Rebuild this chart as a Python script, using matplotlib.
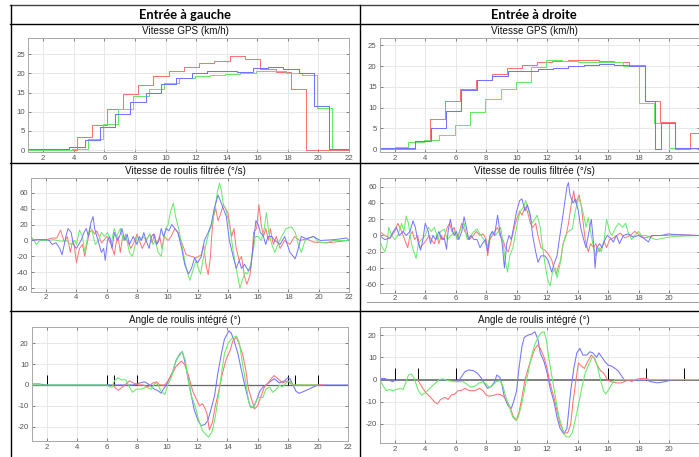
import numpy as np
import matplotlib
matplotlib.use("Agg")
import matplotlib.pyplot as plt
from matplotlib.lines import Line2D

plt.rcParams["axes.unicode_minus"] = False
W, H = 699, 457

# ---------------- DATA ----------------
headers = ["Entrée à gauche", "Entrée à droite"]
titles = ["Vitesse GPS (km/h)", "Vitesse de roulis filtrée (°/s)", "Angle de roulis intégré (°)"]

# GPS speed (step, 1 Hz) - left run
gpsL_red_t = [1, 4.2, 5.2, 6.2, 7.2, 8.2, 9.2, 10.2, 11.2, 12.2, 13.2, 14.2, 15.2, 16.2, 17.2, 18.2, 19.2, 22]
gpsL_red_v = [0, 3.5, 6.5, 10.7, 14.6, 16.9, 19.3, 20.6, 21.7, 22.6, 23.2, 24.4, 23.7, 21.2, 20.4, 16.0, 0, 0]
gpsL_green_t = [1, 2.9, 3.9, 4.9, 5.9, 6.9, 7.9, 8.9, 9.9, 10.9, 11.9, 12.9, 13.9, 14.9, 15.9, 16.9, 17.9, 18.9, 19.9, 20.9, 22]
gpsL_green_v = [0.1, 0.1, 0.4, 3.0, 6.8, 10.8, 14.0, 16.0, 17.6, 18.8, 19.4, 19.6, 19.9, 20.1, 20.7, 20.6, 20.1, 19.5, 10.9, 0.3, 0.3]
gpsL_blue_t = [1, 3.7, 4.7, 5.7, 6.7, 7.7, 8.7, 9.7, 10.7, 11.7, 12.7, 13.7, 14.7, 15.7, 16.7, 17.7, 18.7, 19.7, 20.7, 22]
gpsL_blue_v = [0.2, 0.8, 2.7, 6.0, 9.5, 12.5, 15.0, 17.3, 18.9, 20.2, 20.6, 20.5, 20.3, 21.3, 21.6, 21.0, 20.0, 11.6, 0.2, 0.2]

# GPS speed - right run
gpsR_red_t = [1, 3.3, 4.3, 5.3, 6.3, 7.35, 8.35, 9.35, 10.35, 11.35, 12.35, 13.4, 14.4, 15.4, 16.4, 17.4, 18.4, 19.4, 20.4, 21.4, 22]
gpsR_red_v = [0.1, 1.9, 7.3, 11.6, 14.4, 16.7, 18.2, 19.5, 20.4, 21.0, 21.3, 21.6, 21.5, 21.3, 21.0, 20.3, 11.6, 6.5, 0.1, 3.8, 3.8]
gpsR_green_t = [1, 2.0, 2.9, 3.9, 4.9, 5.95, 6.95, 7.95, 8.95, 9.95, 10.95, 11.95, 12.95, 14.0, 15.0, 16.0, 17.0, 18.0, 19.0, 20.0, 22]
gpsR_green_v = [0.2, 0.5, 1.8, 2.3, 3.3, 5.7, 8.9, 12.2, 14.6, 16.3, 19.9, 21.4, 21.2, 21.1, 21.0, 20.9, 20.0, 11.2, 6.3, 0.2, 0.2]
gpsR_blue_t = [1, 3.35, 4.35, 5.35, 6.35, 7.4, 8.4, 9.4, 10.4, 11.4, 12.4, 13.4, 14.4, 15.4, 16.4, 17.4, 18.45, 19.05, 19.5, 20.4, 22]
gpsR_blue_v = [0.2, 1.9, 5.1, 9.3, 14.2, 16.6, 17.7, 18.8, 18.9, 19.3, 19.6, 20.0, 20.2, 20.5, 20.4, 20.0, 11.5, 0.1, 6.3, 0.2, 0.2]

# Filtered roll rate (t, deg/s) - left run
rateL_red = [(1.0,1),(1.5,1),(2.0,1),(2.4,3),(2.7,3),(2.95,13),(3.2,-2),(3.4,5),(3.6,-15),(3.75,0),(3.85,-5),(4.0,-28),(4.2,-10),(4.4,-5),(4.55,-20),(4.7,-5),(4.85,10),(5.05,13),(5.2,8),(5.35,12),(5.5,5),(5.65,-3),(5.8,0),(6.0,5),(6.3,-5),(6.5,-18),(6.6,-5),(6.75,5),(6.9,-15),(7.05,5),(7.3,2),(7.6,-10),(7.85,0),(8.0,8),(8.15,0),(8.35,-10),(8.6,0),(8.85,8),(9.0,-3),(9.15,8),(9.3,-5),(9.5,5),(9.65,-10),(9.8,5),(10.05,0),(10.25,5),(10.5,15),(10.7,10),(11.0,-5),(11.25,-18),(11.6,-20),(11.9,-22),(12.25,-18),(12.4,-5),(12.55,-30),(12.7,-43),(12.85,-20),(12.95,10),(13.05,30),(13.2,40),(13.35,25),(13.5,32),(13.7,45),(13.85,40),(14.0,35),(14.25,5),(14.4,15),(14.55,-10),(14.75,-25),(14.9,-20),(15.1,-45),(15.25,-55),(15.45,-45),(15.6,-20),(15.7,10),(15.9,15),(16.05,45),(16.2,20),(16.35,5),(16.5,15),(16.7,0),(16.8,15),(17.0,-5),(17.2,5),(17.45,-10),(17.75,0),(18.1,-5),(18.4,5),(18.75,0),(19.2,2),(19.65,-2),(20.5,-3),(22.0,0)]
rateL_green = [(1.0,0),(1.1,3),(1.35,-5),(1.6,0),(2.0,0),(2.5,1),(3.0,-1),(3.3,0),(3.65,-5),(3.9,0),(4.0,-5),(4.2,13),(4.4,5),(4.55,-15),(4.75,5),(4.9,18),(5.05,10),(5.25,-5),(5.45,0),(5.65,10),(5.85,5),(6.05,10),(6.3,-3),(6.5,15),(6.65,5),(6.9,15),(7.1,0),(7.25,8),(7.5,-15),(7.7,-20),(7.85,-8),(8.0,5),(8.2,0),(8.4,5),(8.6,0),(8.85,8),(9.05,-5),(9.2,0),(9.4,-15),(9.6,-20),(9.75,0),(9.9,15),(10.05,20),(10.2,35),(10.4,47),(10.55,30),(10.75,15),(11.0,-10),(11.2,-30),(11.4,-45),(11.5,-50),(11.65,-40),(11.9,-25),(12.05,-35),(12.2,-42),(12.35,-25),(12.55,-5),(12.75,10),(12.95,20),(13.15,40),(13.3,60),(13.45,72),(13.55,65),(13.7,45),(13.85,40),(14.1,20),(14.25,0),(14.45,-25),(14.6,-40),(14.8,-60),(14.95,-50),(15.15,-40),(15.3,-42),(15.5,-30),(15.7,-10),(15.8,5),(16.0,5),(16.2,0),(16.4,15),(16.55,35),(16.7,10),(16.9,-5),(17.1,-15),(17.3,-5),(17.55,5),(17.85,15),(18.2,17),(18.45,10),(18.65,-5),(18.85,-15),(19.1,0),(19.3,3),(19.65,5),(20.0,-2),(20.5,-3),(20.95,0),(22.0,0)]
rateL_blue = [(1.0,0),(1.5,1),(2.0,1),(2.2,0),(2.4,-5),(2.65,-3),(2.9,-10),(3.05,-18),(3.2,-5),(3.3,5),(3.45,15),(3.65,10),(3.8,-5),(4.0,-10),(4.15,-5),(4.3,0),(4.5,10),(4.65,15),(4.8,5),(4.95,22),(5.1,30),(5.2,15),(5.35,5),(5.5,-5),(5.65,-15),(5.8,-10),(5.9,-25),(6.05,0),(6.2,5),(6.35,-10),(6.5,10),(6.7,0),(6.85,5),(7.0,15),(7.2,0),(7.35,8),(7.5,-5),(7.75,5),(8.0,-5),(8.15,5),(8.3,0),(8.45,10),(8.6,0),(8.8,-10),(8.95,5),(9.1,8),(9.3,-5),(9.45,0),(9.6,15),(9.75,5),(9.95,15),(10.1,12),(10.3,20),(10.5,15),(10.7,10),(10.95,-10),(11.15,-30),(11.4,-42),(11.6,-35),(11.8,-22),(12.0,-28),(12.25,-20),(12.45,0),(12.7,10),(12.9,20),(13.1,40),(13.35,57),(13.5,50),(13.7,40),(13.9,30),(14.1,0),(14.35,-20),(14.55,-35),(14.75,-25),(14.9,-35),(15.1,-30),(15.35,-38),(15.5,-35),(15.65,-10),(15.85,25),(16.0,20),(16.15,10),(16.35,5),(16.5,-5),(16.65,5),(16.9,5),(17.1,0),(17.45,-5),(17.75,5),(18.1,-15),(18.45,-23),(18.65,-10),(18.85,5),(19.2,2),(19.65,5),(20.1,0),(21.0,1),(21.85,3),(22.0,0)]

# Filtered roll rate - right run
rateR_red = [(1.0,5),(1.35,0),(1.7,-3),(2.0,5),(2.2,15),(2.45,5),(2.65,-5),(2.85,-15),(3.0,0),(3.15,5),(3.3,-5),(3.5,0),(3.65,-15),(3.9,-10),(4.1,-5),(4.25,0),(4.4,-5),(4.6,-10),(4.75,0),(4.9,-10),(5.05,0),(5.2,-5),(5.45,10),(5.6,15),(5.75,5),(5.9,10),(6.1,-5),(6.25,5),(6.4,15),(6.6,5),(6.75,0),(6.9,-5),(7.15,0),(7.35,5),(7.6,0),(7.8,2),(8.0,-5),(8.1,-25),(8.25,-5),(8.4,0),(8.55,5),(8.75,10),(8.9,0),(9.1,-5),(9.25,-15),(9.45,-20),(9.6,-10),(9.85,10),(10.0,20),(10.2,30),(10.35,25),(10.55,35),(10.7,30),(10.9,15),(11.05,10),(11.25,15),(11.4,0),(11.6,-15),(11.85,-18),(12.05,-22),(12.3,-30),(12.45,-40),(12.6,-48),(12.7,-40),(12.9,-30),(13.05,-10),(13.25,0),(13.4,15),(13.6,40),(13.75,55),(13.85,40),(14.0,45),(14.1,50),(14.25,35),(14.4,10),(14.5,-5),(14.7,-20),(14.85,-10),(15.05,-15),(15.2,-10),(15.4,-20),(15.55,-15),(15.75,-8),(15.9,-15),(16.1,-5),(16.35,-3),(16.55,0),(16.8,3),(17.1,-3),(17.45,0),(17.75,5),(18.1,0),(18.4,-3),(19.05,0),(19.7,0),(20.5,1),(22.0,0)]
rateR_green = [(1.0,-5),(1.2,-15),(1.35,-20),(1.5,-10),(1.6,10),(1.8,0),(2.0,-5),(2.2,0),(2.45,15),(2.6,5),(2.75,24),(2.9,15),(3.1,-10),(3.25,-20),(3.4,-28),(3.55,-10),(3.75,-5),(4.0,0),(4.2,10),(4.4,5),(4.6,10),(4.85,-5),(5.0,5),(5.25,8),(5.45,-5),(5.7,0),(5.9,5),(6.1,-5),(6.35,10),(6.55,15),(6.75,-5),(7.0,0),(7.2,5),(7.4,8),(7.65,0),(7.85,-5),(8.05,-15),(8.2,-5),(8.4,5),(8.6,0),(8.8,5),(8.95,10),(9.15,-15),(9.25,-30),(9.4,-45),(9.55,-25),(9.75,-15),(9.9,0),(10.1,20),(10.25,30),(10.45,35),(10.6,43),(10.8,30),(11.0,15),(11.2,20),(11.35,25),(11.55,10),(11.7,-15),(11.9,-40),(12.05,-55),(12.2,-62),(12.35,-45),(12.55,-40),(12.65,-52),(12.85,-35),(13.0,-15),(13.2,0),(13.4,5),(13.65,8),(13.85,30),(14.05,45),(14.2,40),(14.4,25),(14.55,10),(14.7,22),(14.85,5),(15.05,-15),(15.2,-25),(15.4,-15),(15.55,-20),(15.75,-5),(15.9,20),(16.1,5),(16.25,0),(16.5,10),(16.7,15),(16.95,10),(17.15,15),(17.3,5),(17.55,-5),(17.75,0),(18.0,5),(18.2,0),(18.5,0),(18.85,-3),(19.15,-5),(19.7,-3),(20.4,-1),(22.0,0)]
rateR_blue = [(1.0,0),(1.35,-5),(1.7,-3),(1.9,5),(2.1,10),(2.3,0),(2.55,5),(2.75,0),(3.0,5),(3.2,18),(3.35,10),(3.55,-10),(3.7,-18),(3.85,-5),(4.0,15),(4.2,5),(4.35,-10),(4.5,0),(4.7,-5),(4.9,5),(5.1,-5),(5.25,-3),(5.4,-17),(5.5,5),(5.65,20),(5.8,5),(5.9,0),(6.05,5),(6.2,-5),(6.4,5),(6.55,23),(6.7,10),(6.85,-5),(7.0,0),(7.2,-5),(7.4,-5),(7.6,-15),(7.75,-10),(7.95,-5),(8.1,-20),(8.25,0),(8.4,5),(8.55,0),(8.75,25),(8.9,5),(9.05,-10),(9.2,-40),(9.35,-10),(9.5,0),(9.65,-5),(9.85,15),(10.0,30),(10.2,43),(10.35,45),(10.55,30),(10.7,38),(10.9,25),(11.05,0),(11.25,-20),(11.4,-33),(11.6,-25),(11.85,-25),(12.05,-30),(12.3,-45),(12.45,-35),(12.65,-25),(12.8,-5),(13.0,20),(13.15,40),(13.3,60),(13.4,65),(13.5,50),(13.7,40),(13.85,45),(14.05,30),(14.2,10),(14.4,-5),(14.55,-15),(14.75,5),(14.9,20),(15.05,-10),(15.15,-40),(15.25,-15),(15.45,-10),(15.6,-15),(15.8,-5),(15.95,0),(16.15,-3),(16.35,-8),(16.55,0),(16.75,-10),(17.0,0),(17.3,2),(17.65,-2),(18.0,0),(18.3,-3),(18.65,-8),(18.85,0),(19.5,0),(19.95,2),(20.5,1),(22.0,0)]

# Integrated roll angle (t, deg) - left run
angL_red = [(6.4,0),(6.5,-1),(6.75,-2.5),(6.95,-1.5),(7.2,0),(7.5,2),(7.75,1),(8.05,0),(8.4,0),(8.75,-1),(9.05,1),(9.3,1.5),(9.5,0),(9.85,0),(10.05,2),(10.3,5),(10.6,9),(10.95,11.5),(11.15,10),(11.4,5),(11.7,-3),(11.95,-7),(12.15,-10),(12.35,-9),(12.5,-11),(12.65,-14),(12.8,-21.5),(13.0,-18),(13.2,-10),(13.45,-2),(13.65,5),(13.9,12),(14.2,17),(14.35,21),(14.6,23),(14.75,20),(15.0,15),(15.2,8),(15.4,-2),(15.65,-8),(15.8,-11.5),(16.0,-10),(16.25,-5),(16.45,-1),(16.7,1),(16.9,3),(17.1,4.5),(17.35,3),(17.65,1),(18.0,2),(18.15,1),(18.35,0),(20.4,0)]
angL_green = [(1.0,0),(6.0,0),(6.2,-1),(6.35,-1),(6.5,2),(6.75,3.5),(6.95,2.5),(7.25,2.5),(7.5,-1),(7.7,-3.5),(7.95,-2),(8.3,-2),(8.6,-1),(8.95,-2),(9.2,1),(9.4,0),(9.6,-3),(9.85,-4.5),(10.05,0),(10.3,4),(10.5,10),(10.7,13),(11.0,16),(11.2,12),(11.4,2),(11.6,-5),(11.85,-10),(12.1,-17),(12.35,-22),(12.6,-24),(12.75,-25),(13.0,-22),(13.2,-15),(13.35,-8),(13.6,5),(13.8,15),(14.05,20),(14.25,22),(14.45,23),(14.6,23.5),(14.8,20),(15.0,10),(15.25,0),(15.4,-8),(15.55,-11),(15.8,-10),(16.0,-6),(16.35,-6),(16.55,-2),(16.8,-1),(17.0,-3.5),(17.25,-2),(17.45,0),(17.65,-1),(17.9,1),(18.1,2),(18.35,0),(20.0,0)]
angL_blue = [(1.0,0.5),(1.5,0.5),(2.0,0),(7.75,0),(8.2,1),(8.5,1.5),(8.85,0),(9.15,-2),(9.45,-3),(9.6,-4),(9.75,-2),(9.95,0),(10.15,3),(10.4,7),(10.6,12),(10.85,15),(11.0,16),(11.15,12),(11.4,3),(11.6,-5),(11.8,-12),(12.05,-17),(12.25,-19.5),(12.5,-19),(12.7,-17),(12.9,-12),(13.15,-5),(13.35,5),(13.6,15),(13.8,22),(14.1,26),(14.25,25),(14.45,21),(14.7,15),(14.9,8),(15.15,0),(15.35,-6),(15.5,-10),(15.7,-11),(15.9,-8),(16.15,-3),(16.35,-1),(16.55,0),(16.9,2),(17.1,3),(17.45,1),(17.8,2),(18.0,3.5),(18.15,3),(18.35,0),(18.55,-3),(18.75,-4),(19.1,-3),(19.55,-1.5),(20.0,0),(22.0,0)]
angL_marks = [2, 6, 6.5, 8, 18, 18.5, 20]

# Integrated roll angle - right run
angR_red = [(3.5,0),(3.75,-3),(4.05,-6),(4.35,-8),(4.6,-10),(4.8,-11),(5.0,-9),(5.3,-8),(5.5,-9),(5.7,-7),(5.95,-6.5),(6.15,-5),(6.35,-5),(6.6,-4),(6.9,-5),(7.25,-5),(7.55,-4),(7.8,-5),(8.0,-7),(8.2,-7.5),(8.55,-7),(8.75,-6.5),(9.0,-7),(9.2,-8),(9.4,-10),(9.65,-14),(9.8,-17),(10.0,-18),(10.15,-15),(10.35,-8),(10.55,0),(10.8,6),(11.0,10),(11.2,14),(11.4,15.5),(11.55,14),(11.8,10),(12.0,5),(12.2,-2),(12.45,-8),(12.65,-14),(12.85,-20),(13.1,-24),(13.35,-24),(13.55,-20),(13.7,-10),(13.9,0),(14.05,7.5),(14.25,6),(14.45,5),(14.65,8),(14.9,11),(15.05,10),(15.25,7),(15.5,4),(15.7,3),(15.95,0),(16.2,-1),(16.5,-1.5),(16.85,-1.5),(17.1,-1),(17.35,0),(17.55,-1),(17.75,0),(18.15,0.5),(18.5,0.5),(18.7,0),(22.0,0)]
angR_green = [(1.0,0),(1.25,-3),(1.45,-5),(1.65,-4.5),(1.9,-5),(2.1,-4.5),(2.35,-4),(2.55,-4.5),(2.75,-1),(2.9,2),(3.1,2.5),(3.25,1),(3.4,-2),(3.55,-5),(3.75,-7),(4.0,-6),(4.3,-4),(4.6,-2),(4.95,0),(5.15,0.3),(5.5,-0.5),(5.95,-1),(6.25,-1),(6.5,-1),(6.8,-2.5),(7.0,-3.5),(7.25,-3),(7.55,-1.5),(7.8,-1),(8.0,-2),(8.2,-3.5),(8.45,-2.5),(8.65,-1),(8.9,-0.5),(9.1,-3),(9.3,-8),(9.55,-13),(9.75,-17),(9.95,-18.5),(10.1,-17),(10.3,-12),(10.5,-5),(10.75,3),(10.95,10),(11.15,15),(11.4,19),(11.6,21),(11.8,21.5),(11.95,18),(12.1,10),(12.35,0),(12.55,-8),(12.75,-16),(13.0,-22),(13.2,-25.5),(13.45,-26),(13.65,-24),(13.85,-18),(14.1,-10),(14.3,-3),(14.5,3),(14.75,7),(14.95,10),(15.1,10),(15.3,6),(15.5,0),(15.7,-5),(15.85,-6.5),(16.0,-5),(16.25,-2),(16.45,0),(22.0,0)]
angR_blue = [(1.0,0.5),(1.3,0.5),(1.55,0),(1.85,-1),(2.0,-0.5),(2.3,0),(6.0,0),(6.15,-1),(6.35,1),(6.6,3.5),(6.85,4.3),(7.15,4),(7.4,3),(7.65,1),(7.9,-2),(8.1,-4),(8.35,-3),(8.55,-1),(8.7,2),(8.9,1),(9.05,-3),(9.2,-8),(9.45,-12),(9.65,-13),(9.8,-10),(10.0,-5),(10.15,5),(10.35,15),(10.5,19),(10.75,20),(11.0,20.5),(11.2,21.5),(11.4,18),(11.55,12),(11.8,8),(12.0,3),(12.2,-4),(12.45,-10),(12.65,-17),(12.85,-22),(13.1,-24.5),(13.3,-22),(13.55,-5),(13.75,5),(13.95,12),(14.15,14),(14.35,11),(14.6,11),(14.8,12.5),(15.0,12),(15.25,10),(15.4,12),(15.6,10),(15.8,8),(16.0,6.5),(16.25,6),(16.45,5),(16.65,4),(16.85,2),(17.05,0),(17.4,0),(17.95,-0.5),(18.5,0),(18.8,-1),(19.25,-1.5),(19.7,-1),(20.35,0),(22.0,0)]
angR_marks = [1, 2, 3.5, 6, 16, 18.5, 21]
mark_height = 5

xticks_left = [2, 4, 6, 8, 10, 12, 14, 16, 18, 20, 22]
xticks_right = [2, 4, 6, 8, 10, 12, 14, 16, 18, 20]

# ---------------- STYLE ----------------
RED, GREEN, BLUE = "#ff7373", "#66ea66", "#7373ff"
TICKFONT = "Liberation Sans"
fig = plt.figure(figsize=(W / 100, H / 100), dpi=100)
fig.patch.set_facecolor("white")


def add_ax(x0, x1, y0, y1):
    return fig.add_axes([x0 / W, 1 - y1 / H, (x1 - x0) / W, (y1 - y0) / H])


def style(ax, ylim, yticks, xticks):
    ax.set_xlim(1, 22)
    ax.set_ylim(*ylim)
    ax.set_xticks(xticks)
    ax.set_yticks(yticks)
    ax.grid(True, color="#e4e4e4", lw=0.6)
    ax.set_axisbelow(True)
    for s in ax.spines.values():
        s.set_color("#a8a8a8")
        s.set_linewidth(0.7)
    ax.tick_params(direction="in", length=2.2, width=0.5, color="#555555",
                   top=True, right=True, labelsize=5.6, labelcolor="#555555", pad=2)
    for lab in ax.get_xticklabels() + ax.get_yticklabels():
        lab.set_fontfamily(TICKFONT)


def pts(lst):
    a = np.array(lst, dtype=float)
    return a[:, 0], a[:, 1]


LW = 0.75

# Row 1: GPS
axA = add_ax(28, 349, 38, 152)
style(axA, (-0.5, 29.2), [0, 5, 10, 15, 20, 25], xticks_left)
axA.plot(gpsL_red_t, gpsL_red_v, drawstyle="steps-post", color=RED, lw=LW)
axA.plot(gpsL_green_t, gpsL_green_v, drawstyle="steps-post", color=GREEN, lw=LW)
axA.plot(gpsL_blue_t, gpsL_blue_v, drawstyle="steps-post", color=BLUE, lw=LW)

axB = add_ax(379.5, 699.5, 38, 152)
style(axB, (-0.7, 26.8), [0, 5, 10, 15, 20, 25], xticks_right)
axB.plot(gpsR_red_t, gpsR_red_v, drawstyle="steps-post", color=RED, lw=LW)
axB.plot(gpsR_green_t, gpsR_green_v, drawstyle="steps-post", color=GREEN, lw=LW)
axB.plot(gpsR_blue_t, gpsR_blue_v, drawstyle="steps-post", color=BLUE, lw=LW)

# Row 2: roll rate
axC = add_ax(31, 349, 178, 291.7)
style(axC, (-64.3, 78.4), [-60, -40, -20, 0, 20, 40, 60], xticks_left)
for d, c in ((rateL_red, RED), (rateL_green, GREEN), (rateL_blue, BLUE)):
    t, v = pts(d)
    axC.plot(t, v, color=c, lw=0.7)

axD = add_ax(379.5, 699.5, 178.3, 292.7)
style(axD, (-70.3, 70.3), [-60, -40, -20, 0, 20, 40, 60], xticks_right)
for d, c in ((rateR_red, RED), (rateR_green, GREEN), (rateR_blue, BLUE)):
    t, v = pts(d)
    axD.plot(t, v, color=c, lw=0.7)

# Row 3: roll angle
axE = add_ax(31.5, 348, 327.3, 441)
style(axE, (-26.9, 27.7), [-20, -10, 0, 10, 20], xticks_left)
axE.axhline(0, color="#666666", lw=0.9, zorder=1.5)
axE.vlines(angL_marks, 0, mark_height, color="black", lw=0.7, zorder=1.6)
for d, c in ((angL_blue, BLUE), (angL_red, RED), (angL_green, GREEN)):
    t, v = pts(d)
    axE.plot(t, v, color=c, lw=LW)

axF = add_ax(379.5, 699.5, 327.3, 443.3)
style(axF, (-28.7, 23.5), [-20, -10, 0, 10, 20], xticks_right)
axF.axhline(0, color="#777777", lw=1.3, zorder=1.5)
axF.vlines(angR_marks, 0, mark_height, color="black", lw=0.7, zorder=1.6)
for d, c in ((angR_blue, BLUE), (angR_red, RED), (angR_green, GREEN)):
    t, v = pts(d)
    axF.plot(t, v, color=c, lw=LW)

# ---------------- TABLE FRAME & TEXT ----------------
def hline(y, x0, x1, color="black", lw=1.0):
    fig.add_artist(Line2D([x0 / W, x1 / W], [1 - y / H, 1 - y / H], color=color, lw=lw))


def vline(x, y0, y1, color="black", lw=1.0):
    fig.add_artist(Line2D([x / W, x / W], [1 - y0 / H, 1 - y1 / H], color=color, lw=lw))


hline(5, 10, 699, color="#444444", lw=1.0)
hline(24, 10, 699)
hline(163.5, 10, 699)
hline(311, 10, 699)
hline(302.3, 367, 699, color="#9a9a9a", lw=0.7)
vline(10.5, 5, 457)
vline(360.5, 5, 457)

hdr_font = dict(fontfamily="Lato", fontweight="bold", fontsize=9.3, color="black",
                ha="center", va="center")
fig.text(185 / W, 1 - 15 / H, headers[0], **hdr_font)
fig.text(534 / W, 1 - 15 / H, headers[1], **hdr_font)

ttl_font = dict(fontfamily="Liberation Sans", fontsize=7.1, color="#111111", ha="center", va="center")
for cx in (185, 534):
    fig.text(cx / W, 1 - 31.5 / H, titles[0], **ttl_font)
    fig.text(cx / W, 1 - 171.5 / H, titles[1], **ttl_font)
    fig.text(cx / W, 1 - 320 / H, titles[2], **ttl_font)

fig.savefig("out.png", dpi=100)
